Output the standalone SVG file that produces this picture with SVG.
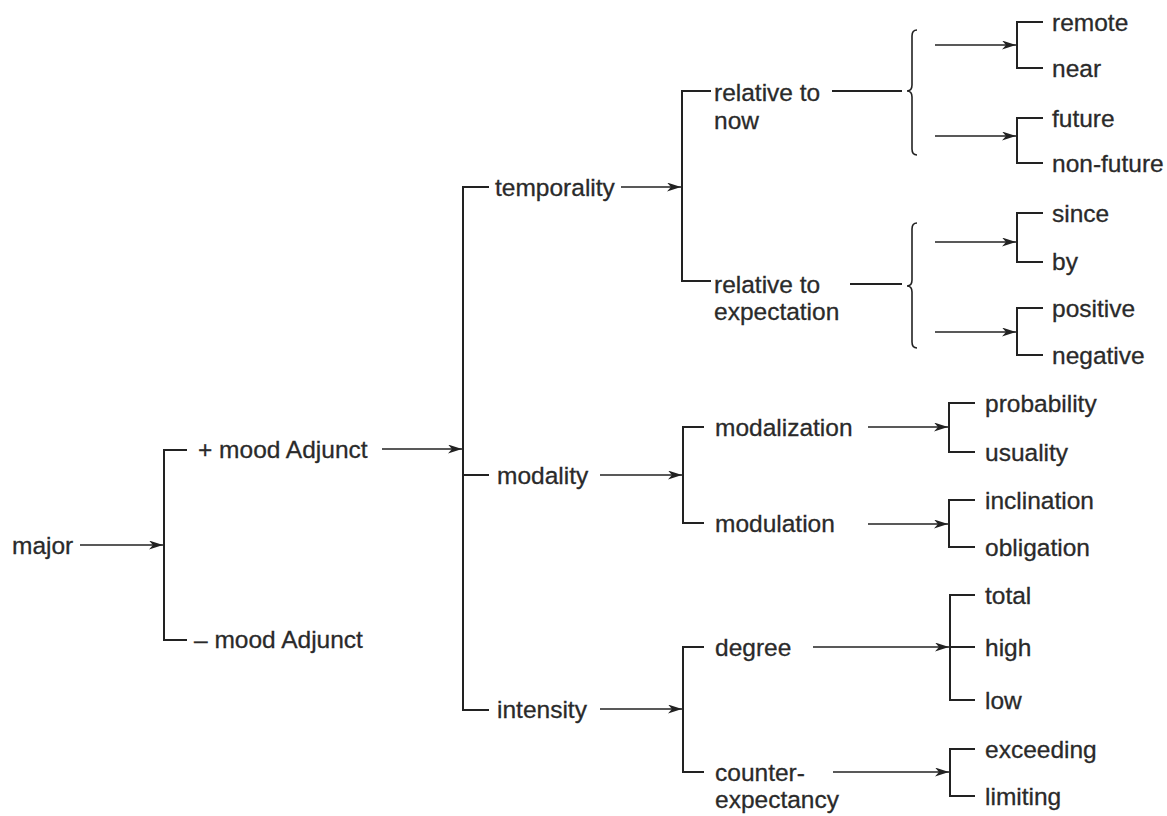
<svg xmlns="http://www.w3.org/2000/svg" width="1167" height="816" viewBox="0 0 1167 816">
  <defs>
    <marker id="arrow" markerUnits="userSpaceOnUse" markerWidth="16" markerHeight="10" refX="14" refY="4.5" orient="auto">
      <path d="M0,0 L14,4.5 L0,9 L4,4.5 Z" fill="#222"/>
    </marker>
    <style>
      text { font-family: "Liberation Sans", Arial, sans-serif; font-size: 24.5px; fill: #2a2a2a; stroke: #2a2a2a; stroke-width: 0.3; }
      .ln { fill: none; stroke: #222; stroke-width: 2; }
      .ar { fill: none; stroke: #222; stroke-width: 1.7; marker-end: url(#arrow); }
      .br { fill: none; stroke: #222; stroke-width: 1.6; }
    </style>
  </defs>
  <rect width="1167" height="816" fill="#fff"/>

  <g id="connectors">
    <!-- major -> mood Adjunct choice -->
    <path class="ar" d="M80,545 H163"/>
    <path class="ln" d="M187,450 H164 V640 H187"/>
    <!-- + mood Adjunct -> temporality / modality / intensity -->
    <path class="ar" d="M382,449 H462"/>
    <path class="ln" d="M489,187 H463 V710 H489 M463,475 H489"/>
    <path class="ar" d="M621,187 H681"/>
    <path class="ar" d="M600,475 H682"/>
    <path class="ar" d="M600,709 H682"/>

    <!-- temporality -->
    <path class="ln" d="M711,91 H682 V281 H711"/>
    <path class="ln" d="M832,91 H902"/>
    <path class="br" d="M917,30 Q912,30 912,36 V85 Q912,91 907,91 Q912,91 912,97 V149 Q912,155 917,155"/>
    <path class="ar" d="M935,45 H1016"/>
    <path class="ln" d="M1043,22 H1017 V68 H1043"/>
    <path class="ar" d="M935,136 H1016"/>
    <path class="ln" d="M1043,118 H1017 V163 H1043"/>

    <path class="ln" d="M850,284 H902"/>
    <path class="br" d="M917,223 Q912,223 912,229 V280 Q912,286 907,286 Q912,286 912,292 V342 Q912,348 917,348"/>
    <path class="ar" d="M935,242 H1016"/>
    <path class="ln" d="M1043,213 H1017 V262 H1043"/>
    <path class="ar" d="M935,332 H1016"/>
    <path class="ln" d="M1043,308 H1017 V355 H1043"/>

    <!-- modality -->
    <path class="ln" d="M704,427 H683 V523 H704"/>
    <path class="ar" d="M868,427 H948"/>
    <path class="ln" d="M975,403 H949 V452 H975"/>
    <path class="ar" d="M868,524 H948"/>
    <path class="ln" d="M975,500 H949 V547 H975"/>

    <!-- intensity -->
    <path class="ln" d="M704,647 H683 V772 H704"/>
    <path class="ar" d="M813,647 H949"/>
    <path class="ln" d="M975,595 H950 V700 H975 M950,647 H975"/>
    <path class="ar" d="M833,772 H949"/>
    <path class="ln" d="M975,749 H950 V796 H975"/>
  </g>

  <g id="major"><text x="12" y="554">major</text></g>
  <g id="plus-mood"><text x="198" y="458">+ mood Adjunct</text></g>
  <g id="minus-mood"><text x="194" y="648">– mood Adjunct</text></g>

  <g id="temporality"><text x="495" y="196">temporality</text></g>
  <g id="modality"><text x="497" y="484">modality</text></g>
  <g id="intensity"><text x="497" y="718">intensity</text></g>

  <g id="relative-now"><text x="714" y="101">relative to</text><text x="714" y="129">now</text></g>
  <g id="relative-expectation"><text x="714" y="293">relative to</text><text x="714" y="320">expectation</text></g>

  <g id="remote"><text x="1052" y="31">remote</text></g>
  <g id="near"><text x="1052" y="77">near</text></g>
  <g id="future"><text x="1052" y="127">future</text></g>
  <g id="non-future"><text x="1052" y="172">non-future</text></g>
  <g id="since"><text x="1052" y="222">since</text></g>
  <g id="by"><text x="1052" y="270">by</text></g>
  <g id="positive"><text x="1052" y="317">positive</text></g>
  <g id="negative"><text x="1052" y="364">negative</text></g>

  <g id="modalization"><text x="715" y="436">modalization</text></g>
  <g id="modulation"><text x="715" y="532">modulation</text></g>
  <g id="probability"><text x="985" y="412">probability</text></g>
  <g id="usuality"><text x="985" y="461">usuality</text></g>
  <g id="inclination"><text x="985" y="509">inclination</text></g>
  <g id="obligation"><text x="985" y="556">obligation</text></g>

  <g id="degree"><text x="715" y="656">degree</text></g>
  <g id="counter-expectancy"><text x="715" y="781">counter-</text><text x="715" y="808">expectancy</text></g>
  <g id="total"><text x="985" y="604">total</text></g>
  <g id="high"><text x="985" y="656">high</text></g>
  <g id="low"><text x="985" y="709">low</text></g>
  <g id="exceeding"><text x="985" y="758">exceeding</text></g>
  <g id="limiting"><text x="985" y="805">limiting</text></g>
</svg>
